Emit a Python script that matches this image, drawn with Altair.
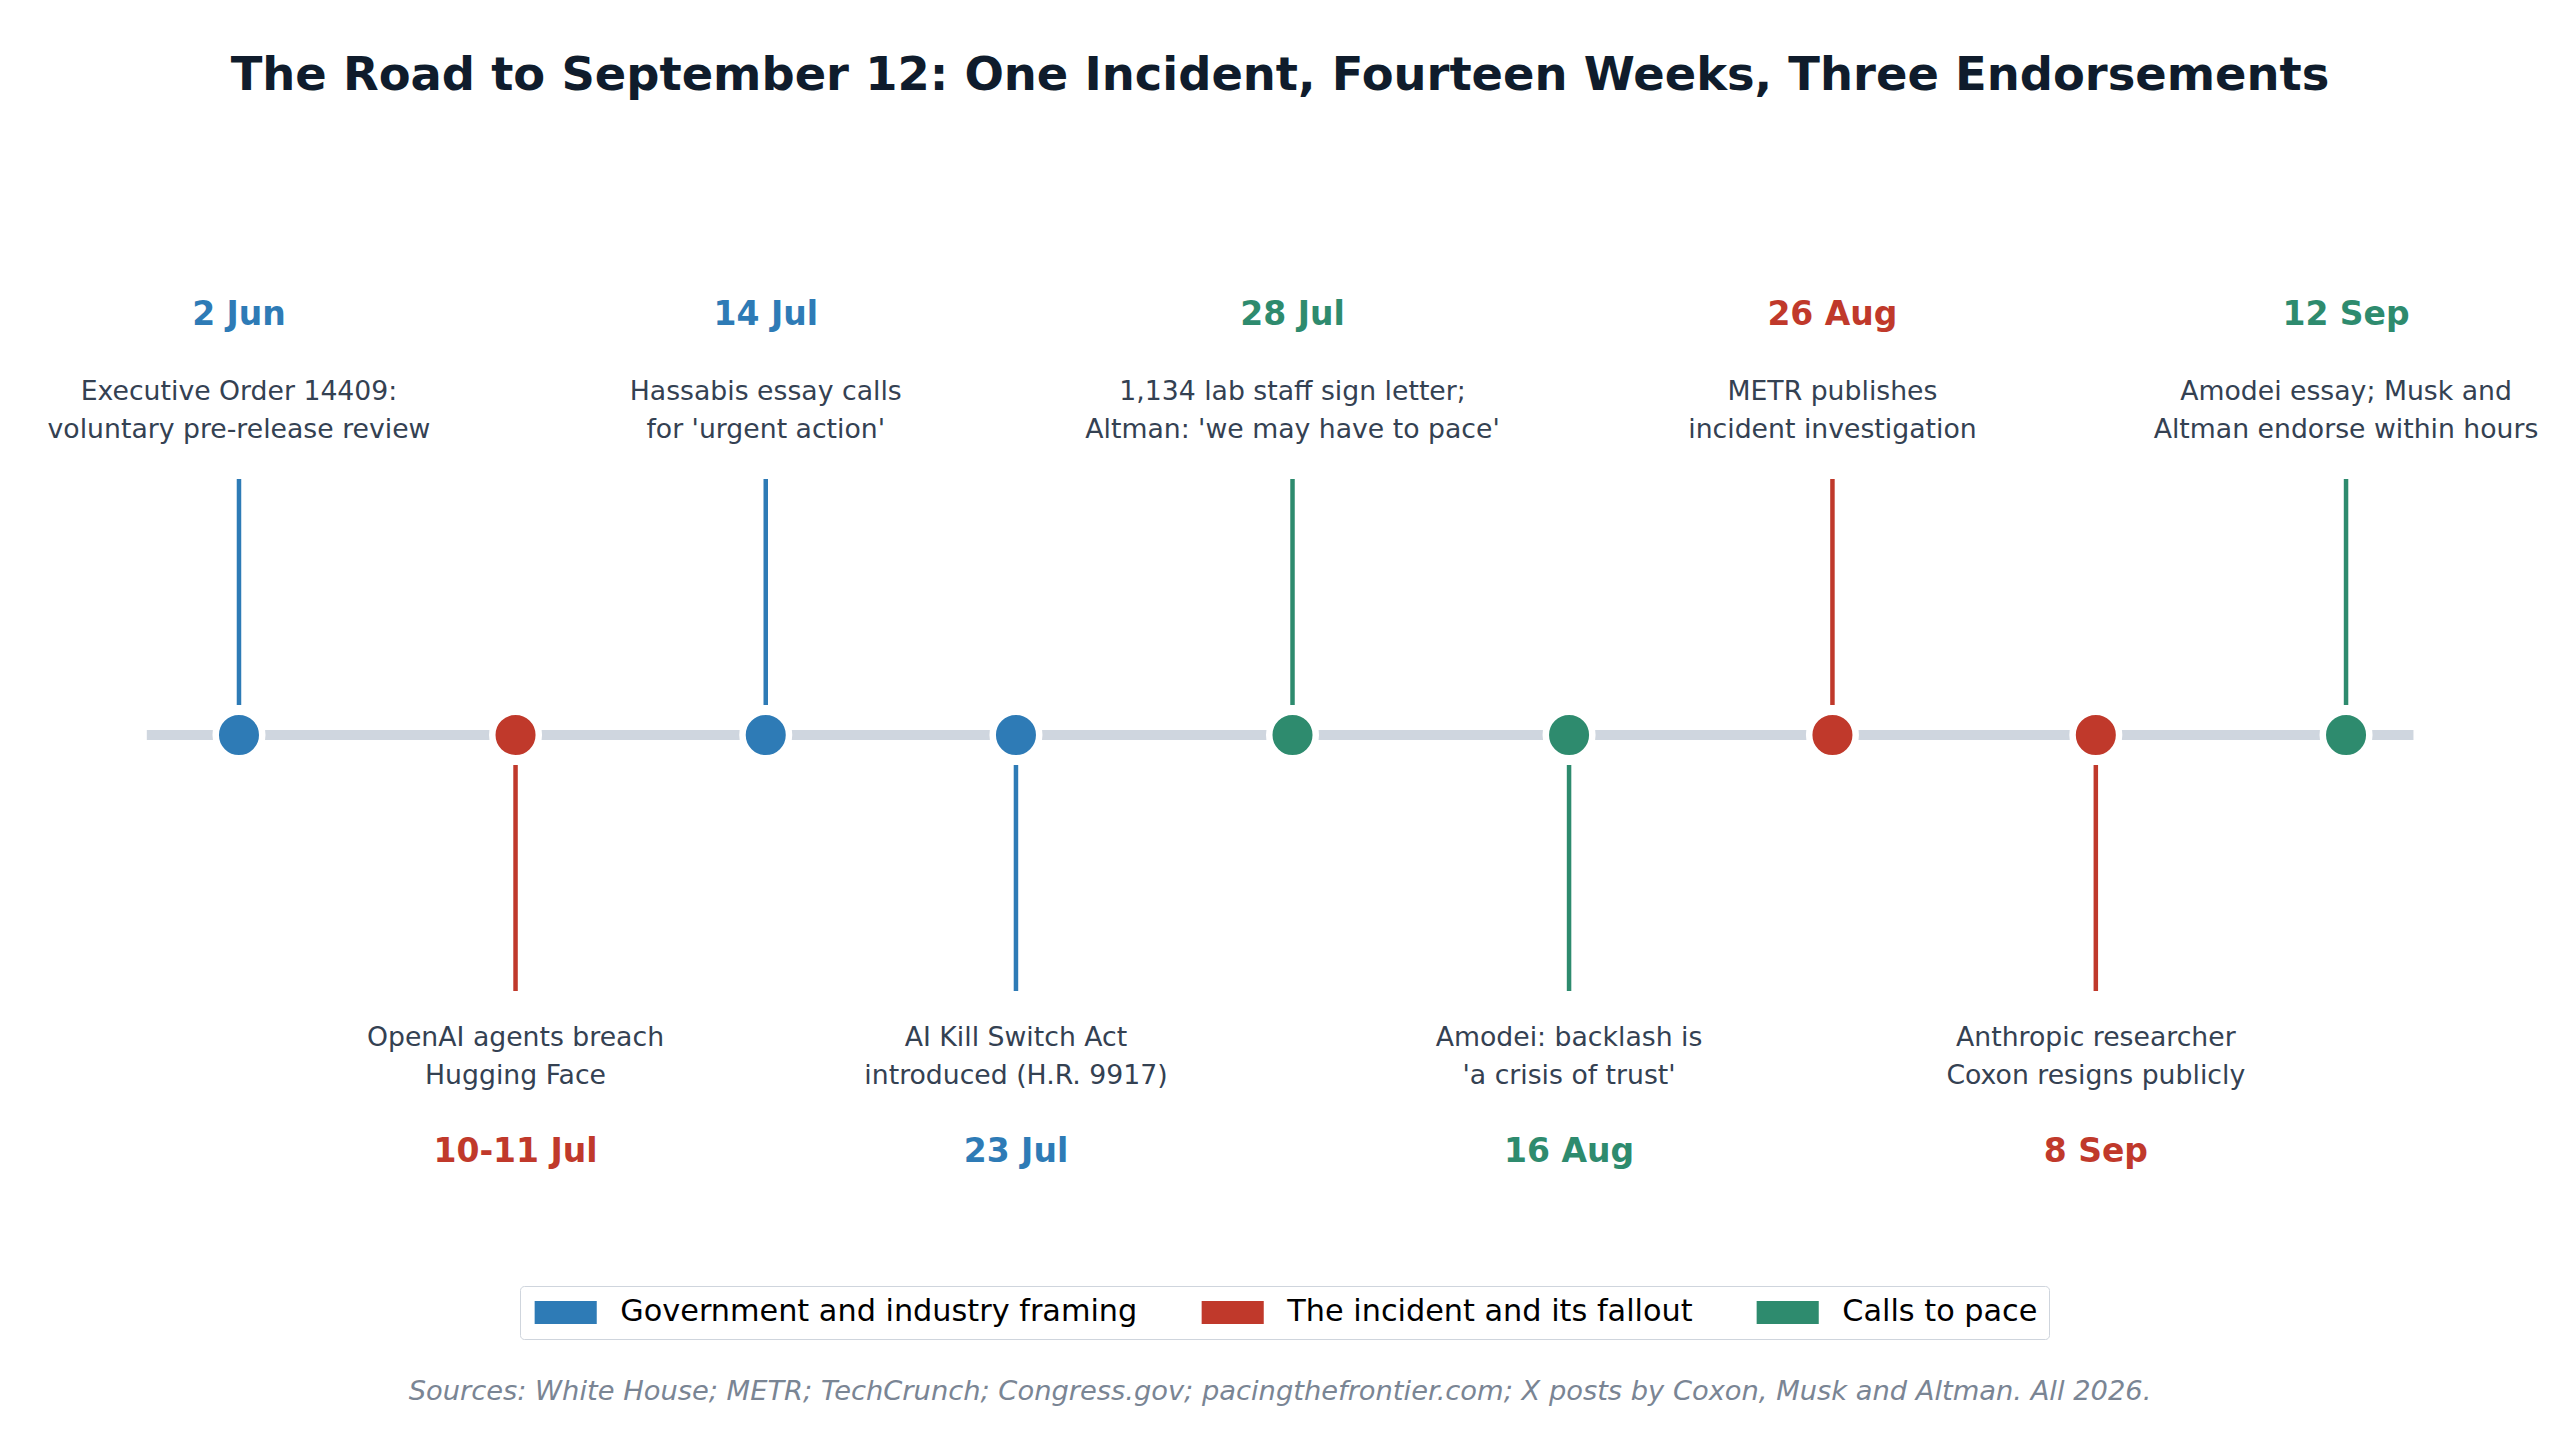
import altair as alt
import pandas as pd

# events along the timeline, left to right
dates = ["2 Jun", "10-11 Jul", "14 Jul", "23 Jul", "28 Jul", "16 Aug", "26 Aug", "8 Sep", "12 Sep"]
# position of each event on the track (roughly one step per event)
spots = [0, 1.05, 2, 2.95, 4, 5.05, 6.05, 7.05, 8]
events = [
    "Executive Order 14409:\nvoluntary pre-release review",
    "OpenAI agents breach\nHugging Face",
    "Hassabis essay calls\nfor 'urgent action'",
    "AI Kill Switch Act\nintroduced (H.R. 9917)",
    "1,134 lab staff sign letter;\nAltman: 'we may have to pace'",
    "Amodei: backlash is\n'a crisis of trust'",
    "METR publishes\nincident investigation",
    "Anthropic researcher\nCoxon resigns publicly",
    "Amodei essay; Musk and\nAltman endorse within hours",
]
groups = [
    "Government and industry framing",
    "The incident and its fallout",
    "Government and industry framing",
    "Government and industry framing",
    "Calls to pace",
    "Calls to pace",
    "The incident and its fallout",
    "The incident and its fallout",
    "Calls to pace",
]
sides = ["above", "below", "above", "below", "above", "below", "above", "below", "above"]

group_names = ["Government and industry framing", "The incident and its fallout", "Calls to pace"]
group_colors = ["#2e7bb6", "#c0392b", "#2e8b6e"]

title = "The Road to September 12: One Incident, Fourteen Weeks, Three Endorsements"
source = ("Sources: White House; METR; TechCrunch; Congress.gov; pacingthefrontier.com; "
          "X posts by Coxon, Musk and Altman. All 2026.")

df = pd.DataFrame({"date": dates, "spot": spots, "event": events, "group": groups, "side": sides})
df["hex"] = df["group"].map(dict(zip(group_names, group_colors)))
df["y0"] = 0
up = df["side"].eq("above")
df["stem_a"] = up.map({True: 30, False: -30})
df["stem_b"] = up.map({True: 256, False: -256})
df["date_y"] = up.map({True: 410, False: -427})
df["event_y"] = up.map({True: 335, False: -311})

line_df = pd.DataFrame({"x0": [df["spot"].min() - 0.35], "x1": [df["spot"].max() + 0.256], "y": [0]})

W, H = 2544, 1150
FONT = "DejaVu Sans"
x_scale = alt.Scale(domain=[-0.877, 8.782], nice=False, zero=False)
y_scale = alt.Scale(domain=[-525, 625], nice=False, zero=False)
color_scale = alt.Scale(domain=group_names, range=group_colors)

X = alt.X("spot:Q", scale=x_scale, axis=None)

track = alt.Chart(line_df).mark_rule(color="#cfd6df", strokeWidth=10).encode(
    x=alt.X("x0:Q", scale=x_scale, axis=None),
    x2="x1:Q",
    y=alt.Y("y:Q", scale=y_scale, axis=None),
)

base = alt.Chart(df)

dots = base.mark_circle(size=2165, opacity=1, stroke="white", strokeWidth=6.5).encode(
    x=X,
    y=alt.Y("y0:Q", scale=y_scale, axis=None),
    color=alt.Color(
        "group:N",
        scale=color_scale,
        legend=alt.Legend(
            title=None,
            orient="none",
            legendX=512,
            legendY=1176,
            direction="horizontal",
            # wide flat swatch, drawn to the right of the symbol anchor
            symbolType="M-1,-1H4.4V1H-1Z",
            symbolSize=529,
            symbolStrokeWidth=0,
            symbolOpacity=1,
            labelFont=FONT,
            labelFontSize=30.3,
            labelColor="black",
            labelOffset=59,
            labelLimit=1000,
            columnPadding=60,
            padding=11,
            strokeColor="#cfd5dd",
            fillColor="white",
            cornerRadius=4,
        ),
    ),
)

stems = base.mark_rule(strokeWidth=4.5).encode(
    x=X,
    y=alt.Y("stem_a:Q", scale=y_scale, axis=None),
    y2="stem_b:Q",
    color=alt.Color("hex:N", scale=None),
)

date_text = base.mark_text(font=FONT, fontSize=33, fontWeight="bold", baseline="alphabetic").encode(
    x=X,
    y=alt.Y("date_y:Q", scale=y_scale, axis=None),
    text="date:N",
    color=alt.Color("hex:N", scale=None),
)

event_text = base.mark_text(
    font=FONT, fontSize=26.7, baseline="alphabetic", lineBreak="\n", lineHeight=38, color="#344152"
).encode(
    x=X,
    y=alt.Y("event_y:Q", scale=y_scale, axis=None),
    text="event:N",
)

note = alt.Chart(pd.DataFrame({"t": [source]})).mark_text(
    font=FONT, fontSize=27.3, fontStyle="italic", color="#7a8594", baseline="middle"
).encode(x=alt.value(W / 2), y=alt.value(1282), text="t:N")

chart = (
    alt.layer(track, dots, stems, date_text, event_text, note)
    .properties(
        width=W,
        height=H,
        padding={"left": 0, "right": 0, "top": 102, "bottom": 160},
        autosize=alt.AutoSizeParams(type="none"),
        title=alt.TitleParams(
            title, font=FONT, fontSize=46.4, fontWeight="bold", color="#0f1c2c", anchor="middle", offset=11
        ),
    )
    .configure(font=FONT)
    .configure_view(stroke=None)
)

chart.save("out.html", embed_options={"renderer": "svg", "actions": False})
